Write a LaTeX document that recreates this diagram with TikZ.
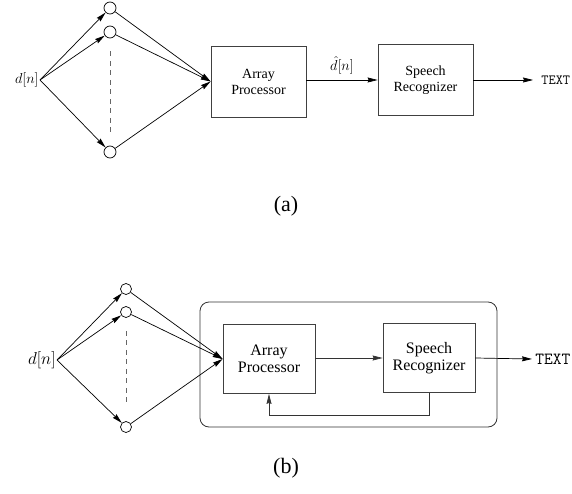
\documentclass[tikz,border=0pt]{standalone}
\usepackage{fontspec}
\setmainfont{Liberation Serif}
\usepackage{tikz}
\usetikzlibrary{arrows.meta}
\usetikzlibrary{positioning}
\tikzset{
  blknode/.style = {align=center, inner sep=0pt, text centered},
  mic_a/.style = {circle, draw=black, fill=white, inner sep=0pt,
    minimum size=12pt},% capteur, figure (a)
  mic_b/.style = {mic_a, minimum size=11pt},% capteur, figure (b)
  proc_a/.style = {blknode, rectangle, draw=black!75, line width=0.8pt,
    font=\fontsize{14}{16}\selectfont, minimum width=95pt,
    minimum height=71pt},% bloc, figure (a)
  proc_b/.style = {proc_a, font=\fontsize{16}{17.5}\selectfont,
    minimum width=92pt, minimum height=69pt},% bloc, figure (b)
  lbl_a/.style = {font=\fontsize{14}{16}\selectfont},
  lbl_b/.style = {font=\fontsize{17}{19}\selectfont},
  gap_l/.style = {black!60, line width=1pt,
    dash pattern=on 5pt off 4.5pt},% capteurs omis
  cap_n/.style = {font=\fontsize{22}{24}\selectfont}% legende
}

\begin{document}
\begin{tikzpicture}[x=1pt,y=-1pt,line width=0.7pt,
  >={Stealth[length=10pt,width=5pt,inset=1pt]}]
\useasboundingbox (0,0) rectangle (572,494);

% (a)
\node [lbl_a, anchor=east, inner sep=1pt] (d1) at (40,80) {$d[n]$};
\node [mic_a] (c1) at (110,8) {};
\node [mic_a] (c2) at (110,32) {};
\node [mic_a] (c3) at (110,152) {};
\node [proc_a] (ap1) at (258.5,81.5) {Array\\Processor};
\node [proc_a] (sr1) at (425.5,80) {Speech\\Recognizer};
\node [lbl_a, font=\fontsize{14}{16}\selectfont\ttfamily, anchor=west,
  inner sep=0pt] (t1) at (541,80) {TEXT};

\draw[->] (d1.east) -- (c1);
\draw[->] (d1.east) -- (c2);
\draw[->] (d1.east) -- (c3);
\draw[->] (c1) -- (ap1.west);
\draw[->] (c2) -- (ap1.west);
\draw[->] (c3) -- (ap1.west);
\draw[gap_l] ([yshift=-13]c2.south) -- ([yshift=14]c3.north);
\draw[->] (ap1.east |- sr1.west) -- node[lbl_a, above=2pt] {$\hat{d}[n]$} (sr1.west);
\draw[->] (sr1.east) -- ([xshift=-8]t1.west);

\node [cap_n] (capa) at (286,206) {(a)};

% (b)
\node [lbl_b, anchor=east, inner sep=1pt] (d2) at (57,360) {$d[n]$};
\node [mic_b] (c4) at (126,289) {};
\node [mic_b] (c5) at (126,312) {};
\node [mic_b] (c6) at (126,427) {};
\node [proc_b] (ap2) at (269,359) {Array\\Processor};
\node [proc_b] (sr2) at (429,358) {Speech\\Recognizer};
\node [lbl_b, font=\fontsize{17}{19}\selectfont\ttfamily, anchor=west,
  inner sep=0pt] (t2) at (535,359) {TEXT};
\draw[rounded corners=9pt, black!80, line width=0.8pt] (200,302) rectangle (497,427);

\draw[->] (d2.east) -- (c4);
\draw[->] (d2.east) -- (c5);
\draw[->] (d2.east) -- (c6);
\draw[->] (c4) -- (ap2.west);
\draw[->] (c5) -- (ap2.west);
\draw[->] (c6) -- (ap2.west);
\draw[gap_l] ([yshift=-13]c5.south) -- ([yshift=15]c6.north);
\draw[->, black!80] (ap2.east |- sr2.west) -- (sr2.west);
\draw[->, black!80] (sr2.south) -- ++(0,22) -| (ap2.south);
\draw[->] (sr2.east) -- ([xshift=-3]t2.west);

\node [cap_n] (capb) at (286,468) {(b)};
\end{tikzpicture}
\end{document}
